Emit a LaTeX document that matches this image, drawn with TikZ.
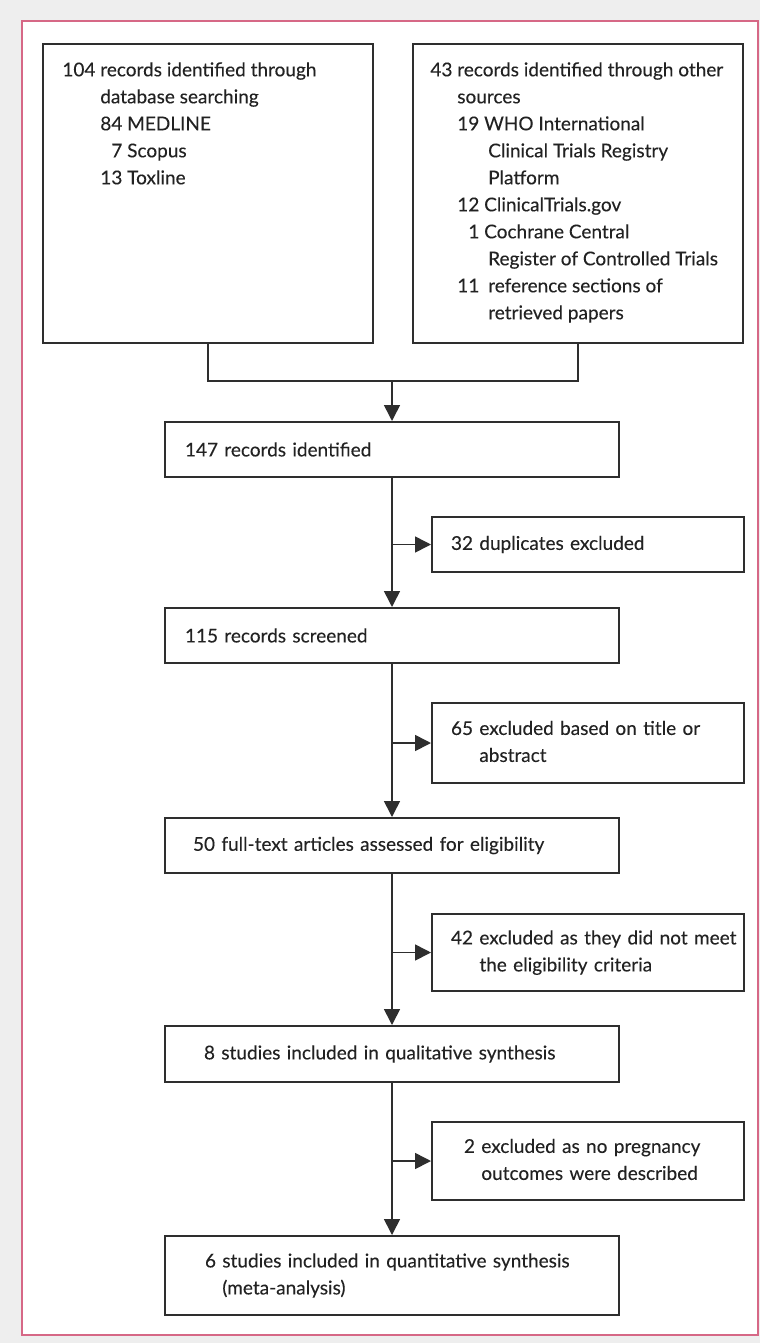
\documentclass[tikz,border=0pt]{standalone}
\usepackage{fontspec}
\setmainfont{Lato}[FakeBold=0.15]
\usetikzlibrary{arrows.meta}
\definecolor{bggray}{HTML}{EEEEEE}
\definecolor{framepink}{RGB}{214,104,134}
\definecolor{linegray}{HTML}{2E2E2E}
\definecolor{textgray}{HTML}{222222}
\newcommand{\flowfont}{\fontsize{9.5}{13.5}\selectfont}
\tikzset{
  flowbox/.style={draw=linegray, line width=1pt, fill=white, anchor=north west,
                  inner xsep=0pt, inner ysep=0pt, align=left, text=textgray, font=\flowfont},
  mainbox/.style={flowbox, text width=227pt, minimum height=#1},
  sidebox/.style={flowbox, text width=156pt, minimum height=#1},
  srcbox/.style={flowbox, text width=165pt, minimum height=149.5pt},
  listtext/.style={anchor=north west, inner sep=0pt, align=left, text=textgray, font=\flowfont},
  flowline/.style={draw=linegray, line width=0.8pt},
  arr/.style={flowline, -{Triangle[length=8pt,width=8pt]}}
}
\begin{document}
\begin{tikzpicture}[x=0.5pt, y=-0.5pt]
    \useasboundingbox (0,0) rectangle (760,1343);
    \fill[bggray] (0,0) rectangle (760,1343);
    \draw[framepink, line width=0.8pt, fill=white] (22,21) rectangle (758,1335);

    \node[srcbox] (recdb)  at ( 42,43) {};
    \node[srcbox] (recoth) at (412,43) {};
    \node[listtext] (recdbtxt) at ([shift={(10pt,-7pt)}]recdb.north west)
        {\begin{tabular}{@{}r@{ }r@{ }l@{}}
         104 & \multicolumn{2}{@{}l@{}}{records identified through}\\
             & \multicolumn{2}{@{}l@{}}{database searching}\\
             & 84 & MEDLINE\\
             &  7 & Scopus\\
             & 13 & Toxline
         \end{tabular}};
    \node[listtext] (recothtxt) at ([shift={(9pt,-7pt)}]recoth.north west)
        {\begin{tabular}{@{}r@{ }r@{ }l@{}}
         43 & \multicolumn{2}{@{}l@{}}{records identified through other}\\
            & \multicolumn{2}{@{}l@{}}{sources}\\
            & 19 & WHO International\\
            &    & \hspace{2pt}Clinical Trials Registry\\
            &    & \hspace{2pt}Platform\\
            & 12 & ClinicalTrials.gov\\
            &  1 & Cochrane Central\\
            &    & \hspace{2pt}Register of Controlled Trials\\
            & 11 & \hspace{2pt}reference sections of\\
            &    & \hspace{2pt}retrieved papers
         \end{tabular}};

    \node[mainbox=27.5pt] (ident)  at (164,421)  {\hspace*{10pt}147 records identified};
    \node[sidebox=27.5pt] (dupl)   at (431,516)  {\hspace*{9.5pt}32 duplicates excluded};
    \node[mainbox=27.5pt] (screen) at (164,607)  {\hspace*{10pt}115 records screened};
    \node[sidebox=40pt]   (exabs)  at (431,702)
        {\hspace*{9.5pt}\begin{tabular}{@{}r@{ }l@{}}
         65 & excluded based on title or\\
            & abstract
         \end{tabular}};
    \node[mainbox=27.5pt] (full)   at (164,817)  {\hspace*{14pt}50 full-text articles assessed for eligibility};
    \node[sidebox=38.5pt] (exelig) at (431,913)
        {\hspace*{9.5pt}\begin{tabular}{@{}r@{ }l@{}}
         42 & excluded as they did not meet\\
            & the eligibility criteria
         \end{tabular}};
    \node[mainbox=28pt]   (qual)   at (164,1025) {\hspace*{19.5pt}8 studies included in qualitative synthesis};
    \node[sidebox=39pt]   (expreg) at (431,1121)
        {\hspace*{16pt}\begin{tabular}{@{}r@{ }l@{}}
         2 & excluded as no pregnancy\\
           & outcomes were described
         \end{tabular}};
    \node[mainbox=39.5pt] (quant)  at (164,1235)
        {\hspace*{20pt}\begin{tabular}{@{}r@{ }l@{}}
         6 & studies included in quantitative synthesis\\
           & (meta-analysis)
         \end{tabular}};

    \coordinate (merge) at (392,381);
    \draw[flowline] (recdb.south) |- (merge) -| (recoth.south);
    \draw[arr] (merge) -- (ident.north);

    \draw[arr] (ident.south)  -- (screen.north);
    \draw[arr] (screen.south) -- (full.north);
    \draw[arr] (full.south)   -- (qual.north);
    \draw[arr] (qual.south)   -- (quant.north);

    \draw[arr] (ident.south  |- dupl.west)   -- (dupl.west);
    \draw[arr] (screen.south |- exabs.west)  -- (exabs.west);
    \draw[arr] (full.south   |- exelig.west) -- (exelig.west);
    \draw[arr] (qual.south   |- expreg.west) -- (expreg.west);
\end{tikzpicture}
\end{document}
